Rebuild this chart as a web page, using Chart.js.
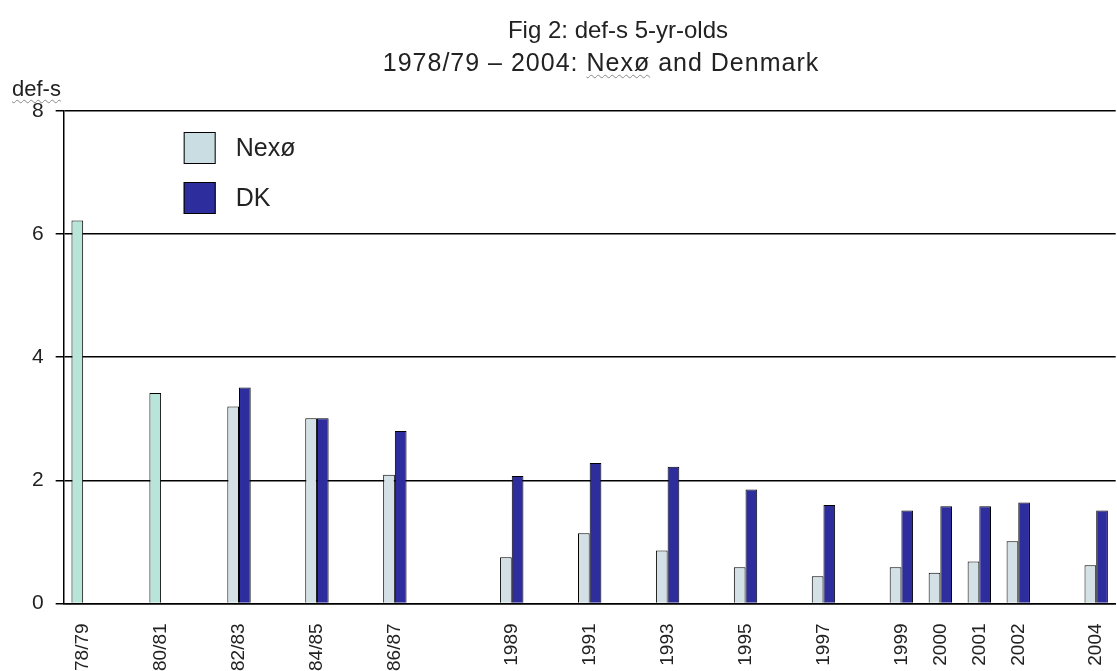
<!DOCTYPE html>
<html>
<head>
<meta charset="utf-8">
<script src="https://cdn.jsdelivr.net/npm/chart.js@4"></script>
<style>
html,body{margin:0;overflow:hidden;background:#fff;font-family:"Liberation Sans",Arial,sans-serif;}
#wrap{position:relative;width:1140px;height:700px;}
canvas{position:absolute;left:0;top:0;}
.tl{position:absolute;left:0;text-align:center;line-height:32px;color:#222;white-space:nowrap;}
#t1{top:14px;width:1236px;font-size:24px;}
#t2{top:46px;width:1202px;font-size:25px;letter-spacing:1px;}
#ylab{position:absolute;left:12px;top:76px;font-size:22px;color:#222;}
.sp{text-decoration:underline wavy #888;text-decoration-thickness:1px;text-underline-offset:3px;}
</style>
</head>
<body>
<div id="wrap">
<canvas id="chart" width="1131" height="687"></canvas>
<div class="tl" id="t1">Fig 2: def-s 5-yr-olds</div>
<div class="tl" id="t2">1978/79 – 2004: <span class="sp">Nexø</span> and Denmark</div>
<div id="ylab"><span class="sp">def-s</span></div>
</div>
<script>
/* DATA */

const categories = ['78/79','80/81','82/83','84/85','86/87','1989','1991','1993','1995','1997','1999','2000','2001','2002','2004'];
const startYears = [1978,1980,1982,1984,1986,1989,1991,1993,1995,1997,1999,2000,2001,2002,2004];
const nexo = [6.22,3.42,3.20,3.01,2.09,0.75,1.14,0.86,0.59,0.44,0.59,0.50,0.68,1.01,0.62];
const dk = [null,null,3.51,3.01,2.80,2.07,2.28,2.22,1.85,1.60,1.51,1.58,1.58,1.64,1.51];
const yTicks = [0,2,4,6,8];

/* one slot per year, empty where there is no survey */

const labels = [];
const nexoSlots = [];
const dkSlots = [];
const nexoColors = [];

for(let y = startYears[0]; y <= startYears[startYears.length-1]; y++){
    const i = startYears.indexOf(y);
    labels.push(i >= 0 ? categories[i] : '');
    nexoSlots.push(i >= 0 ? nexo[i] : null);
    dkSlots.push(i >= 0 ? dk[i] : null);
    nexoColors.push(y < 1982 ? '#b8e4da' : '#d3e0e5');
}

const FONT = '"Liberation Sans", Arial, sans-serif';

/* LEGEND inside plot */

const boxLegend = {
    id:'boxLegend',
    afterDraw(chart){
        const ctx = chart.ctx;
        const a = chart.chartArea;
        chart.data.datasets.forEach((ds,i)=>{
            const x = a.left + 120;
            const y = a.top + 21 + i*50;
            ctx.save();
            ctx.fillStyle = ds.legendColor;
            ctx.fillRect(x,y,32,32);
            ctx.strokeStyle = '#000';
            ctx.lineWidth = 1;
            ctx.strokeRect(x+0.5,y+0.5,31,31);
            ctx.fillStyle = '#222';
            ctx.font = '25px ' + FONT;
            ctx.textBaseline = 'middle';
            ctx.fillText(ds.label, x+52, y+17);
            ctx.restore();
        });
    }
};

new Chart(document.getElementById('chart'),{

    type:'bar',

    data:{
        labels:labels,
        datasets:[{
            label:'Nexø',
            data:nexoSlots,
            backgroundColor:nexoColors,
            legendColor:'#cadde2',
            borderColor:'#000',
            borderWidth:1
        },{
            label:'DK',
            data:dkSlots,
            backgroundColor:'#2d2d9e',
            legendColor:'#2d2d9e',
            borderColor:'#000',
            borderWidth:1
        }]
    },

    options:{
        responsive:false,
        animation:false,
        layout:{padding:{top:111,left:20,right:0,bottom:4}},
        plugins:{
            legend:{display:false},
            tooltip:{enabled:false}
        },
        datasets:{
            bar:{categoryPercentage:0.6,barPercentage:1}
        },
        scales:{
            x:{
                grid:{display:false},
                border:{display:true,color:'#000',width:1.5},
                ticks:{
                    autoSkip:false,
                    minRotation:90,
                    maxRotation:90,
                    padding:12,
                    color:'#222',
                    font:{family:FONT,size:19}
                }
            },
            y:{
                min:0,
                max:8,
                afterBuildTicks(scale){
                    scale.ticks = yTicks.map(v=>({value:v}));
                },
                grid:{color:'#000',lineWidth:1.5,tickLength:8},
                border:{display:true,color:'#000',width:1.5},
                ticks:{
                    padding:12,
                    color:'#222',
                    font:{family:FONT,size:21}
                }
            }
        }
    },

    plugins:[boxLegend]

});
</script>
</body>
</html>
